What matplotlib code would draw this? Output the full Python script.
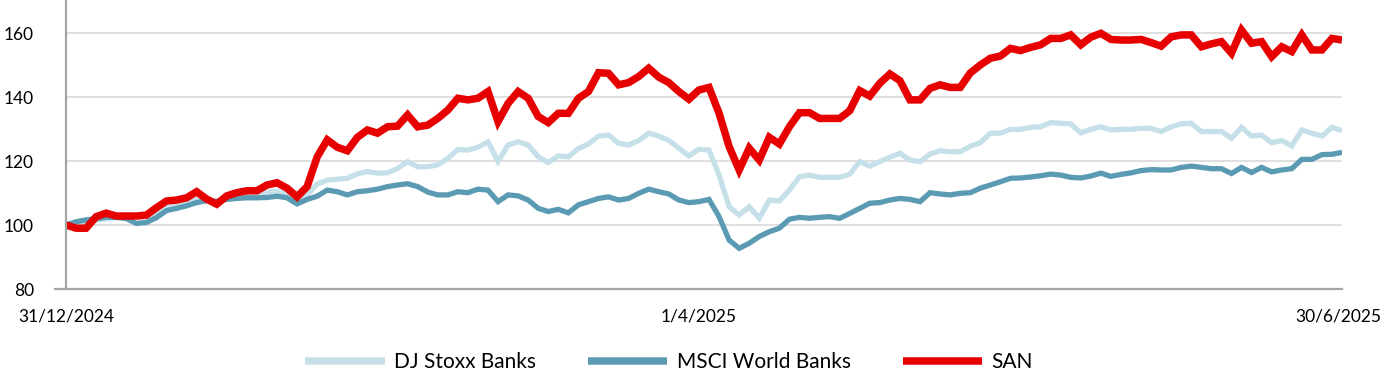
import matplotlib
matplotlib.use("Agg")
import matplotlib.pyplot as plt
import matplotlib.transforms as mtransforms

plt.rcParams['font.family'] = ['Lato', 'DejaVu Sans']

series_names = ["DJ Stoxx Banks", "MSCI World Banks", "SAN"]
tick_labels = ["31/12/2024", "1/4/2025", "30/6/2025"]
tick_index = [0, 63, 127]

san = [100, 99, 99, 102.6, 103.7, 102.8, 102.8, 102.8, 103.1, 105.4,
       107.5, 107.8, 108.5, 110.4, 108.1, 106.5, 109.1, 110.1, 110.7, 110.7,
       112.5, 113.2, 111.5, 108.8, 112, 121.3, 126.6, 124.3, 123.2, 127.4,
       129.7, 128.7, 130.7, 130.9, 134.4, 130.7, 131.2, 133.3, 135.9, 139.6,
       139.1, 139.6, 141.7, 132.3, 138, 141.7, 139.6, 133.9, 132, 134.9,
       134.9, 139.6, 141.7, 147.6, 147.4, 143.8, 144.5, 146.4, 149, 146.2,
       144.5, 141.7, 139.3, 142.2, 143, 134.9, 124.5, 117.2, 124, 120.3,
       127.4, 125.3, 130.7, 135.1, 135.1, 133.3, 133.3, 133.3, 135.7, 142,
       140.3, 144.3, 147.2, 145.1, 139.1, 139.1, 142.7, 143.8, 143, 143,
       147.5, 150, 152.1, 152.8, 155.2, 154.5, 155.5, 156.3, 158.3, 158.3,
       159.4, 156.3, 158.7, 159.9, 158, 157.8, 157.8, 158, 157, 155.9,
       158.8, 159.4, 159.4, 155.7, 156.6, 157.3, 153.7, 160.9, 156.8, 157.3,
       152.6, 155.7, 154.2, 159.4, 154.7, 154.7, 158.3, 157.8]

msci = [100, 101, 101.6, 102, 102.4, 102.4, 102, 100.5, 100.8, 102.3,
        104.5, 105.2, 106, 107, 107.6, 107.4, 108, 108.3, 108.5, 108.5,
        108.6, 109, 108.5, 106.6, 108, 109, 110.9, 110.4, 109.4, 110.4,
        110.7, 111.2, 112, 112.5, 112.9, 112, 110.3, 109.4, 109.4, 110.4,
        110.1, 111.2, 110.9, 107.3, 109.4, 109.1, 107.8, 105.2, 104.2, 104.9,
        103.8, 106.3, 107.3, 108.3, 108.8, 107.8, 108.3, 109.9, 111.2, 110.4,
        109.7, 107.8, 107, 107.3, 108, 102.6, 95.3, 92.7, 94.3, 96.4,
        97.9, 99, 101.8, 102.4, 102.1, 102.4, 102.6, 102.1, 103.6, 105.2,
        106.8, 107, 107.8, 108.3, 108, 107.3, 110.1, 109.7, 109.4, 109.9,
        110.1, 111.5, 112.5, 113.5, 114.6, 114.7, 115, 115.4, 115.9, 115.6,
        114.9, 114.7, 115.3, 116.2, 115.2, 115.8, 116.3, 117, 117.3, 117.2,
        117.2, 118, 118.4, 118, 117.6, 117.6, 116.1, 118, 116.4, 118,
        116.6, 117.2, 117.6, 120.5, 120.5, 122, 122.1, 122.7]

djstoxx = [100, 100.3, 100.6, 101.5, 102, 102.2, 102.5, 102.8, 102.6, 104,
           105.5, 106, 106.8, 108, 107.5, 107, 108.5, 109, 109.5, 110,
           110.3, 110.5, 109.5, 107.5, 109.5, 112.8, 114, 114.3, 114.6, 116,
           116.7, 116.2, 116.3, 117.7, 119.8, 118.2, 118.2, 118.8, 120.8, 123.6,
           123.4, 124.3, 126, 119.8, 125, 126, 125, 121.3, 119.5, 121.6,
           121.3, 123.9, 125.3, 127.8, 128.1, 125.5, 125, 126.4, 128.7, 127.8,
           126.4, 124, 121.6, 123.7, 123.4, 115.6, 105.7, 103.1, 105.7, 102.1,
           107.8, 107.5, 110.9, 115.1, 115.6, 114.9, 114.9, 114.9, 115.9, 119.8,
           118.4, 119.8, 121.2, 122.4, 120.3, 119.8, 122.2, 123.2, 122.9, 122.9,
           124.6, 125.7, 128.7, 128.7, 129.9, 129.9, 130.5, 130.7, 132, 131.8,
           131.6, 128.8, 129.9, 130.7, 129.7, 129.9, 129.9, 130.2, 130.2, 129.2,
           130.7, 131.6, 131.8, 129.2, 129.2, 129.2, 127.1, 130.5, 127.8, 128.1,
           125.7, 126.4, 124.7, 129.7, 128.7, 127.8, 130.5, 129.5]

colors = ["#c6e0e9", "#5a9ab3", "#e60000"]
widths = [3.8, 3.8, 5.4]

fig = plt.figure(figsize=(13.82, 3.76), dpi=100)
ax = fig.add_axes([66/1382, 1-289/376, 1276/1382, 288/376])

x = list(range(len(san)))
for vals, name, c, lw in zip([djstoxx, msci, san], series_names, colors, widths):
    ax.plot(x, vals, color=c, lw=lw, label=name, solid_joinstyle='miter',
            solid_capstyle='butt')

ax.set_xlim(0, len(san) - 1)
ax.set_ylim(80, 170)
ax.set_yticks([80, 100, 120, 140, 160])
ax.yaxis.grid(True, color="#dcdcdc", lw=1.3)
ax.set_axisbelow(True)
ax.set_xticks(tick_index)
ax.set_xticklabels(tick_labels)
ax.tick_params(axis='both', length=0, labelsize=12.5, colors='black')
ax.tick_params(axis='y', pad=23)
ax.tick_params(axis='x', pad=14)
for s in ['top', 'right']:
    ax.spines[s].set_visible(False)
for s in ['left', 'bottom']:
    ax.spines[s].set_color('#a6a6a6')
    ax.spines[s].set_linewidth(1.6)
ax.plot([-11/1276, 0], [0, 0], transform=ax.transAxes, clip_on=False,
        color='#a6a6a6', lw=1.6)

# keep the last date label inside the canvas
last_label = ax.get_xticklabels()[-1]
last_label.set_transform(last_label.get_transform() +
                         mtransforms.ScaledTranslation(-4/100, 0, fig.dpi_scale_trans))

leg = fig.legend(loc='center', bbox_to_anchor=(669/1382, 1-362/376), ncol=3,
                 frameon=False, fontsize=15, handlelength=3.8,
                 handletextpad=0.45, columnspacing=2.5)
for h in leg.get_lines():
    h.set_linewidth(5.4)

fig.savefig("out.png", dpi=100)
